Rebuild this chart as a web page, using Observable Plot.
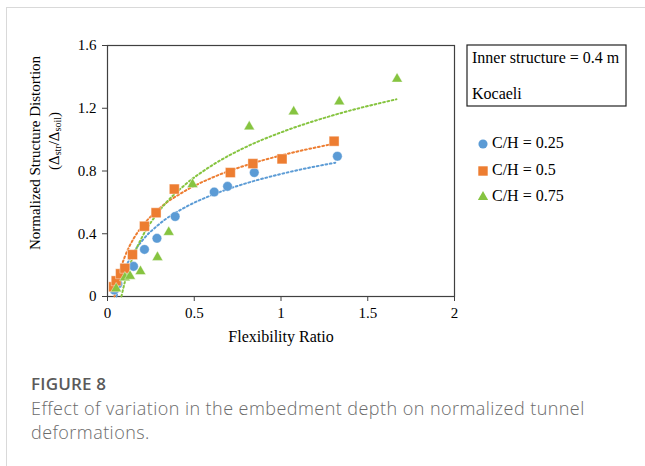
<!DOCTYPE html>
<html>
<head>
<meta charset="utf-8">
<script src="https://cdn.jsdelivr.net/npm/d3@7"></script>
<script src="https://cdn.jsdelivr.net/npm/@observablehq/plot@0.6"></script>
<style>
  html, body { margin: 0; padding: 0; background: #fff; }
  body { width: 645px; height: 466px; position: relative; overflow: hidden; }
  #card { position: absolute; left: 6px; top: 7px; width: 700px; height: 500px;
          border-top: 1px solid #d9d9d9; border-left: 1px solid #d9d9d9; }
  #chart { position: absolute; left: 0; top: 0; }
  #cap { position: absolute; left: 31px; top: 372px; width: 610px;
         font-family: "Open Sans", "Noto Sans", sans-serif; }
  #cap .fig { font-size: 17px; font-weight: 600; color: #5a5a5a; line-height: 24px; letter-spacing: 0.2px; }
  #cap .txt { font-size: 18px; font-weight: 300; color: #6b6b6b; line-height: 24px; letter-spacing: 0.45px; }
</style>
</head>
<body>
<div id="card"></div>
<div id="chart"></div>
<div id="cap">
  <div class="fig">FIGURE 8</div>
  <div class="txt">Effect of variation in the embedment depth on normalized tunnel<br>deformations.</div>
</div>
<script>
// ---- data ----
const xTicks = [0, 0.5, 1, 1.5, 2];
const yTicks = [0, 0.4, 0.8, 1.2, 1.6];
const seriesNames = ["C/H = 0.25", "C/H = 0.5", "C/H = 0.75"];
const seriesColors = ["#5B9BD5", "#ED7D31", "#86C440"];
const seriesSymbols = ["circle", "square", "triangle"];

const ch025X = [0.039, 0.06, 0.15, 0.213, 0.285, 0.39, 0.615, 0.692, 0.846, 1.325];
const ch025Y = [0.041, 0.08, 0.192, 0.30, 0.371, 0.51, 0.666, 0.702, 0.79, 0.894];
const ch05X = [0.035, 0.05, 0.075, 0.10, 0.144, 0.213, 0.28, 0.385, 0.708, 0.838, 1.006, 1.306];
const ch05Y = [0.062, 0.10, 0.145, 0.18, 0.267, 0.448, 0.534, 0.685, 0.79, 0.847, 0.877, 0.99];
const ch075X = [0.05, 0.10, 0.13, 0.19, 0.288, 0.353, 0.49, 0.817, 1.073, 1.336, 1.669];
const ch075Y = [0.05, 0.12, 0.13, 0.16, 0.25, 0.41, 0.715, 1.082, 1.178, 1.242, 1.387];

// dotted trend curves
const trend025X = [0.052, 0.07, 0.10, 0.15, 0.20, 0.30, 0.45, 0.60, 0.80, 1.00, 1.313];
const trend025Y = [0.0, 0.079, 0.173, 0.280, 0.356, 0.463, 0.570, 0.646, 0.722, 0.781, 0.853];
const trend05X = [0.040, 0.06, 0.08, 0.10, 0.15, 0.20, 0.30, 0.45, 0.60, 0.80, 1.00, 1.306];
const trend05Y = [0.0, 0.111, 0.192, 0.254, 0.368, 0.448, 0.562, 0.675, 0.756, 0.837, 0.899, 0.974];
const trend075X = [0.080, 0.10, 0.15, 0.20, 0.30, 0.45, 0.60, 0.80, 1.00, 1.30, 1.665];
const trend075Y = [0.0, 0.093, 0.261, 0.380, 0.548, 0.715, 0.834, 0.954, 1.046, 1.155, 1.257];

// ---- tables ----
const pts = [ [ch025X, ch025Y], [ch05X, ch05Y], [ch075X, ch075Y] ];
const trs = [ [trend025X, trend025Y], [trend05X, trend05Y], [trend075X, trend075Y] ];
const points = pts.map(([xs, ys], i) => xs.map((x, j) => ({x, y: ys[j], s: i})));
const trends = trs.map(([xs, ys], i) => xs.map((x, j) => ({x, y: ys[j], s: i})));
const symR = [4.8, 5.6, 4.0];

const marks = [
  Plot.frame({stroke: "#404040", strokeWidth: 1.2}),
  Plot.axisX({ticks: xTicks, tickFormat: d => String(d), tickSize: 5, tickPadding: 6, stroke: "#404040", label: null, fontSize: 15}),
  Plot.axisY({ticks: yTicks, tickFormat: d => d === 0 ? "0" : d.toFixed(1), tickSize: 5, tickPadding: 6, stroke: "#404040", label: null, fontSize: 15})
];
trends.forEach((t, i) => marks.push(
  Plot.line(t, {x: "x", y: "y", stroke: seriesColors[i], strokeWidth: 2, strokeDasharray: "1.8 2.6", curve: "monotone-x"})
));
points.forEach((p, i) => marks.push(
  Plot.dot(p, {x: "x", y: "y", fill: seriesColors[i], symbol: seriesSymbols[i], r: symR[i], stroke: "#fff", strokeWidth: 0.4})
));

const chart = Plot.plot({
  width: 645, height: 355,
  marginLeft: 107, marginRight: 191, marginTop: 45, marginBottom: 59,
  style: {fontFamily: "'Liberation Serif', 'Times New Roman', serif", fontSize: "15px", color: "#000", background: "transparent"},
  x: {domain: [0, 2]},
  y: {domain: [0, 1.6]},
  marks
});
document.getElementById("chart").appendChild(chart);

// ---- titles, info box, legend ----
const svg = d3.select(chart);
const serif = "'Liberation Serif', 'Times New Roman', serif";
svg.append("text").attr("x", 281).attr("y", 338).attr("text-anchor", "middle")
  .attr("dominant-baseline", "middle").attr("font-family", serif).attr("font-size", 16)
  .attr("fill", "#000").text("Flexibility Ratio");
svg.append("text").attr("transform", "translate(37,153) rotate(-90)").attr("text-anchor", "middle")
  .attr("dominant-baseline", "middle").attr("font-family", serif).attr("font-size", 15)
  .attr("fill", "#000").text("Normalized Structure Distortion");
const t2 = svg.append("text").attr("transform", "translate(56,141) rotate(-90)").attr("text-anchor", "middle")
  .attr("dominant-baseline", "middle").attr("font-family", serif).attr("font-size", 15).attr("fill", "#000");
t2.append("tspan").text("(\u0394");
t2.append("tspan").attr("font-size", 10).attr("dy", 3).text("str");
t2.append("tspan").attr("dy", -3).text("/\u0394");
t2.append("tspan").attr("font-size", 10).attr("dy", 3).text("soil");
t2.append("tspan").attr("dy", -3).text(")");

svg.append("rect").attr("x", 467).attr("y", 45).attr("width", 159).attr("height", 61)
  .attr("fill", "none").attr("stroke", "#222").attr("stroke-width", 1.2);
svg.append("text").attr("x", 472).attr("y", 59).attr("text-anchor", "start").attr("dominant-baseline", "middle")
  .attr("font-family", serif).attr("font-size", 16).attr("fill", "#000").text("Inner structure = 0.4 m");
svg.append("text").attr("x", 472).attr("y", 95).attr("text-anchor", "start").attr("dominant-baseline", "middle")
  .attr("font-family", serif).attr("font-size", 16).attr("fill", "#000").text("Kocaeli");

const legY = [144, 171, 197];
seriesNames.forEach((name, i) => {
  const sym = d3.symbol(i === 0 ? d3.symbolCircle : i === 1 ? d3.symbolSquare : d3.symbolTriangle, Math.PI * symR[i] * symR[i] * 0.9);
  svg.append("path").attr("d", sym()).attr("transform", `translate(483,${legY[i]})`).attr("fill", seriesColors[i]);
  svg.append("text").attr("x", 492).attr("y", legY[i]).attr("text-anchor", "start").attr("dominant-baseline", "middle")
    .attr("font-family", serif).attr("font-size", 16).attr("fill", "#000").text(name);
});
</script>
</body>
</html>
